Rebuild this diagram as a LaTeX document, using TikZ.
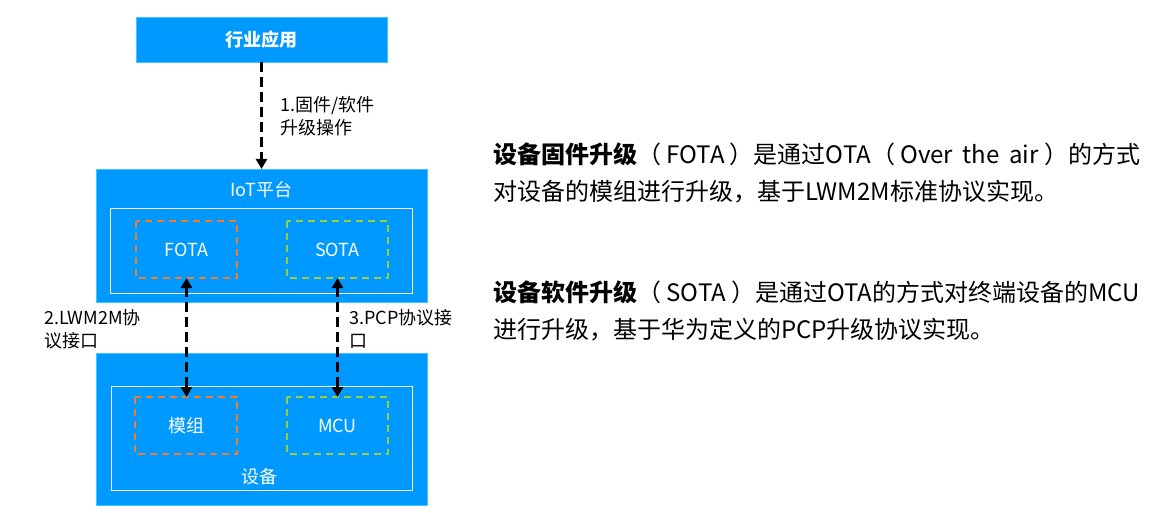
\documentclass[tikz,border=0pt]{standalone}
\usepackage{fontspec}
\setmainfont{Noto Sans CJK SC}
\usetikzlibrary{arrows.meta}
\definecolor{boxblue}{RGB}{0,153,255}
\definecolor{boxedge}{RGB}{60,200,255}
\definecolor{dorange}{RGB}{237,125,49}
\definecolor{dgreen}{RGB}{155,205,60}
\newcommand{\wsp}{\hspace{0.3em plus 1fil}}
\begin{document}
\begin{tikzpicture}[x=1pt,y=-1pt,
  bluebox/.style={fill=boxblue,draw=boxedge,line width=0.8pt},
  whitebox/.style={draw=white,line width=1pt},
  obox/.style={draw=dorange,dashed,dash pattern=on 7pt off 5pt,line width=1.6pt},
  gbox/.style={draw=dgreen,dashed,dash pattern=on 7pt off 5pt,line width=1.6pt},
  wtext/.style={text=white,font=\fontsize{18}{21}\selectfont},
  lbl/.style={font=\fontsize{18}{23}\selectfont,align=left,anchor=west,inner sep=0pt},
  rtext/.style={font=\fontsize{24}{27}\selectfont,anchor=west,inner sep=0pt},
  conn/.style={line width=3pt,dash pattern=on 10pt off 5pt},
  tip/.style={-{Triangle[length=10pt,width=11pt]}},
  tips/.style={{Triangle[length=10pt,width=11pt]}-{Triangle[length=10pt,width=11pt]}}
]
\useasboundingbox (0,0) rectangle (1170,513);
\fill[white] (0,0) rectangle (1170,513);
% top box
\draw[bluebox] (136,17) rectangle (387,62);
\node[wtext,font=\fontsize{18}{21}\selectfont\bfseries] (app) at (261.5,39.5) {行业应用};
\coordinate (appS) at (261.5,62);
% IoT platform
\draw[bluebox] (96,169) rectangle (427,302);
\coordinate (iotN) at (261.5,169);
\node[wtext] (iot) at (261.5,189.5) {IoT平台};
\draw[whitebox] (110,209) rectangle (412,293);
\draw[obox] (136,221) rectangle (237,278);
\node[wtext] (fota) at (186.5,249.5) {FOTA};
\coordinate (fotaS) at (186.5,278);
\draw[gbox] (287,221) rectangle (388,278);
\node[wtext] (sota) at (337.5,249.5) {SOTA};
\coordinate (sotaS) at (337.5,278);
% device
\draw[bluebox] (96,353) rectangle (427,505);
\draw[whitebox] (111,386) rectangle (412,490);
\draw[obox] (135,397) rectangle (237,454);
\node[wtext] (mod) at (186,425.5) {模组};
\coordinate (modN) at (186.5,397);
\draw[gbox] (287,397) rectangle (388,454);
\node[wtext] (mcu) at (337.5,425.5) {MCU};
\coordinate (mcuN) at (337.5,397);
\node[wtext] (dev) at (259,477) {设备};
% connectors
\draw[conn,tip] (appS) -- (iotN);
\draw[conn,tips] (fotaS) -- (modN);
\draw[conn,tips] (sotaS) -- (mcuN);
% labels
\node[lbl] (l1) at (280,116.5) {1.固件/软件\\升级操作};
\node[lbl] (l2) at (44,329) {2.LWM2M协\\议接口};
\node[lbl] (l3) at (349,329) {3.PCP协议接\\口};
% right text
\node[rtext] (t1) at (493,154) {\makebox[647pt][s]{\textbf{设备固件升级}（ FOTA ）是通过OTA（ Over\wsp the\wsp air ）的方式}};
\node[rtext] (t2) at (493,192) {对设备的模组进行升级，基于LWM2M标准协议实现。};
\node[rtext] (t3) at (493,292) {\textbf{设备软件升级}（ SOTA ）是通过OTA的方式对终端设备的MCU};
\node[rtext] (t4) at (493,330) {进行升级，基于华为定义的PCP升级协议实现。};
\end{tikzpicture}
\end{document}
